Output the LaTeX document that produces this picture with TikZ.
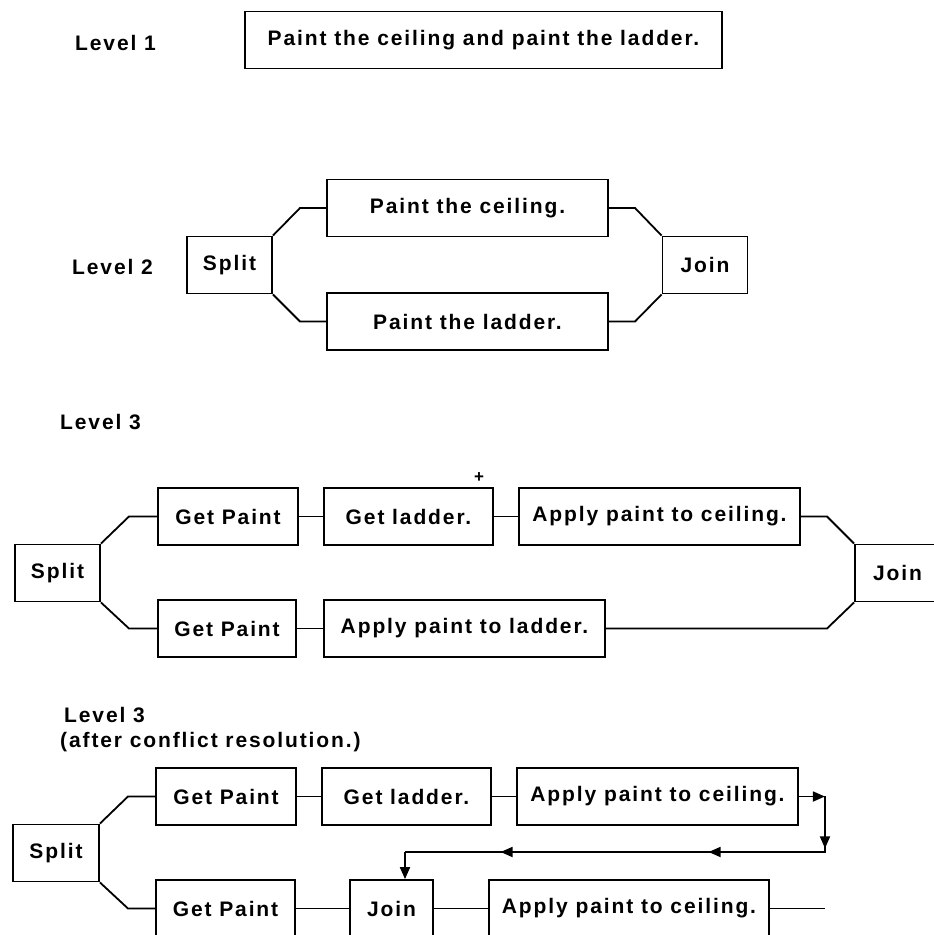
\documentclass[tikz,border=0pt]{standalone}
\usepackage{fontspec}
\setmainfont[LetterSpace=9]{Liberation Sans}
\usetikzlibrary{arrows.meta,decorations.markings,calc}
\begin{document}
\begin{tikzpicture}[x=1pt,y=-1pt,
  txt/.style={font=\fontsize{21}{25}\selectfont\bfseries, inner sep=0pt},
  box/.style={txt, draw, line width=1.8pt, minimum height=57pt},
  conn/.style={line width=1.8pt, line join=miter},
  >={Triangle[length=12pt,width=10pt]}]
\useasboundingbox (0,0) rectangle (934,935);
% Level 1
\node[txt, anchor=west] (lab1) at (75,43) {Level 1};
\node[box, minimum width=477pt] (box1) at (483.5,40) {Paint the ceiling and paint the ladder.};
% Level 2
\node[txt, anchor=west] (lab2) at (72,267) {Level 2};
\node[box, minimum width=85pt] (split2) at (229.5,265) {Split};
\node[box, minimum width=281pt] (ceil2) at (467.5,208) {Paint the ceiling.};
\node[box, minimum width=281pt] (ladd2) at (467.5,321.5) {Paint the ladder.};
\node[box, minimum width=85pt] (join2) at (705,265) {Join};
\coordinate (a1) at (300,208); \coordinate (a2) at (300,321.5);
\coordinate (a3) at (635,208); \coordinate (a4) at (635,321.5);
\draw[conn] (split2.north east) -- (a1) -- (ceil2.west);
\draw[conn] (split2.south east) -- (a2) -- (ladd2.west);
\draw[conn] (ceil2.east) -- (a3) -- (join2.north west);
\draw[conn] (ladd2.east) -- (a4) -- (join2.south west);
% Level 3
\node[txt, anchor=west] (lab3) at (60,422) {Level 3};
\node[txt] (plus) at (479,478) {\fontsize{17}{17}\selectfont +};
\node[box, minimum width=140pt] (gp1) at (228,516.5) {Get Paint};
\node[box, minimum width=169pt] (gl1) at (408.5,516.5) {Get ladder.};
\node[box, minimum width=281pt] (ac1) at (659.5,516.5) {Apply paint to ceiling.};
\node[box, minimum width=85pt] (split3) at (57.5,573) {Split};
\node[box, minimum width=85pt] (join3) at (897.5,573) {Join};
\node[box, minimum width=138pt] (gp2) at (227,628.5) {Get Paint};
\node[box, minimum width=281pt] (al2) at (464.5,628.5) {Apply paint to ladder.};
\coordinate (b1) at (129,516.5); \coordinate (b2) at (129,628.5);
\coordinate (b3) at (827,516.5); \coordinate (b4) at (827,628.5);
\draw[conn] (split3.north east) -- (b1) -- (gp1.west);
\draw[conn] (gp1.east) -- (gl1.west);
\draw[conn] (gl1.east) -- (ac1.west);
\draw[conn] (ac1.east) -- (b3) -- (join3.north west);
\draw[conn] (split3.south east) -- (b2) -- (gp2.west);
\draw[conn] (gp2.east) -- (al2.west);
\draw[conn] (al2.east) -- (b4) -- (join3.south west);
% Level 3 after conflict resolution
\node[txt, anchor=west] (lab4) at (64,715) {Level 3};
\node[txt, anchor=west] (lab5) at (60,742) {(after conflict resolution.)};
\node[box, minimum width=140pt] (gp3) at (226,796.5) {Get Paint};
\node[box, minimum width=169pt] (gl3) at (406.5,796.5) {Get ladder.};
\node[box, minimum width=281pt] (ac3) at (657.5,796.5) {Apply paint to ceiling.};
\node[box, minimum width=86pt] (split4) at (56,853) {Split};
\node[box, minimum width=139pt] (gp4) at (225.5,908.5) {Get Paint};
\node[box, minimum width=83pt] (join4) at (391.5,908.5) {Join};
\node[box, minimum width=280pt] (ac4) at (629,908.5) {Apply paint to ceiling.};
\coordinate (c1) at (128,796.5); \coordinate (c2) at (128,908.5);
\coordinate (r1) at (825,796.5); \coordinate (r2) at (825,852);
\coordinate (c4) at (405,852); \coordinate (e1) at (825,908.5);
\draw[conn] (split4.north east) -- (c1) -- (gp3.west);
\draw[conn] (gp3.east) -- (gl3.west);
\draw[conn] (gl3.east) -- (ac3.west);
\draw[conn] (split4.south east) -- (c2) -- (gp4.west);
\draw[conn] (gp4.east) -- (join4.west);
\draw[conn] (join4.east) -- (ac4.west);
\draw[conn] (ac4.east) -- (e1);
\draw[conn, decoration={markings,
    mark=at position 26pt with {\arrow{>}},
    mark=at position 78pt with {\arrow{>}},
    mark=at position 198pt with {\arrow{>}},
    mark=at position 406pt with {\arrow{>}}}, postaction={decorate}]
  (ac3.east) -- (r1) -- (r2) -- (c4);
\draw[conn, -{>}] (c4) -- (c4 |- join4.north);
\end{tikzpicture}
\end{document}
